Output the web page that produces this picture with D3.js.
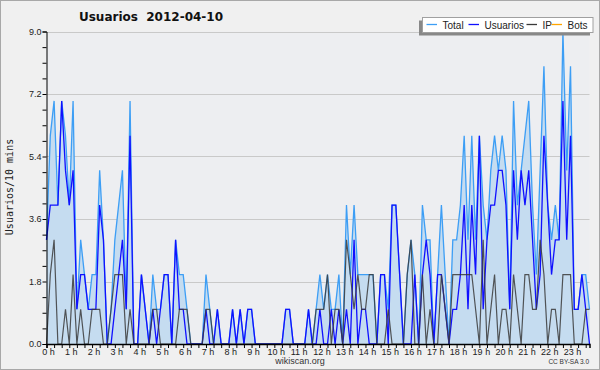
<!DOCTYPE html>
<html><head><meta charset="utf-8">
<script src="https://cdn.jsdelivr.net/npm/d3@7"></script>
<style>body{margin:0;background:#f0f0f0}svg{display:block}</style>
</head><body><svg id="c" width="600" height="370"></svg>
<script>
// 10-minute slots, 2012-04-10
const usuarios = [3,4,4,4,7,5,4,5,1,2,2,1,1,1,4,3,0,0,1,2,3,1,6,
  0,0,2,1,0,1,0,1,2,2,0,3,1,1,0,0,0,0,0,1,0,0,1,0,
  0,0,1,0,1,0,1,1,0,0,0,0,0,0,0,0,1,1,0,0,0,0,1,0,
  0,1,0,0,1,0,1,0,1,0,3,0,1,1,0,0,0,2,2,0,4,4,2,0,0,
  0,2,0,2,3,2,0,2,2,1,0,1,1,2,4,1,4,2,6,1,3,4,4,
  5,5,4,1,5,3,5,4,5,3,1,2,6,4,2,3,3,7,3,6,1,1,2,1,0];
const ip = [0,2,3,0,0,1,0,2,0,1,0,0,1,1,1,0,0,1,2,2,2,0,1,
  0,0,0,0,0,1,1,0,0,0,0,0,1,1,1,0,0,0,0,1,1,0,0,0,
  0,0,0,0,0,0,0,0,0,0,0,0,0,0,0,0,0,0,0,0,0,0,0,0,
  1,1,1,2,0,1,1,0,3,2,1,2,1,1,2,2,0,0,0,1,0,0,0,0,2,
  3,0,0,2,0,1,0,0,2,1,0,2,2,2,2,2,2,1,0,3,0,1,2,
  0,1,1,0,2,1,0,2,2,1,1,3,2,0,1,1,0,2,2,2,0,0,0,1,1];
const total = [3,6,7,4,7,6,4,7,1,3,2,1,2,2,5,3,0,1,3,4,5,1,7,
  0,0,2,1,0,2,1,1,2,2,0,3,2,2,1,0,0,0,0,2,1,0,1,0,
  0,0,1,0,1,0,1,1,0,0,0,0,0,0,0,0,1,1,0,0,0,0,1,0,
  1,2,1,2,1,1,2,0,4,2,4,2,2,2,2,2,0,2,2,1,4,4,2,0,2,
  3,2,0,4,3,3,0,2,4,2,0,3,3,4,6,3,6,3,6,4,3,5,6,
  5,6,5,1,7,4,5,6,7,4,2,5,8,4,3,4,3,9,5,8,1,1,2,2,1];
const bots = [0,0,0,0,0,0,0,0,0,0,0,0,0,0,0,0,0,0,0,0,0,0,0,0,
  0,0,0,0,0,0,0,0,0,0,0,0,0,0,0,0,0,0,0,0,0,0,0,0,
  0,0,0,0,0,0,0,0,0,0,0,0,0,0,0,0,0,0,0,0,0,0,0,0,
  0,0,0,0,0,0,0,0,0,0,0,0,0,0,0,0,0,0,0,0,0,0,0,0,
  0,0,0,0,0,0,0,0,0,0,0,0,0,0,0,0,0,0,0,0,0,0,0,0,
  0,0,0,0,0,0,0,0,0,0,0,0,0,0,0,0,0,0,0,0,0,0,0,0];
const yTicks = [0, 1.8, 3.6, 5.4, 7.2, 9.0];
const hourLabels = ["0 h","1 h","2 h","3 h","4 h","5 h","6 h","7 h","8 h","9 h","10 h","11 h",
  "12 h","13 h","14 h","15 h","16 h","17 h","18 h","19 h","20 h","21 h","22 h","23 h"];
const legendNames = ["Total","Usuarios","IP","Bots"];
const title = "Usuarios  2012-04-10";
const yTitle = "Usuarios/10 mins";

const svg = d3.select("#c");
const W = 600, H = 370;
const x = d3.scaleLinear().domain([0, total.length - 1]).range([46.5, 589.5]);
const y = d3.scaleLinear().domain([0, 9]).range([344, 31.5]);
const colors = {Total:"#3d9ef5", Usuarios:"#1010ff", IP:"#3a3a3a", Bots:"#ffa500"};

svg.append("rect").attr("x",0.5).attr("y",0.5).attr("width",W-1).attr("height",H-1)
  .attr("fill","#f0f0f0").attr("stroke","#a8a8a8");
svg.append("rect").attr("x",x(0)).attr("y",y(9)).attr("width",x(143)-x(0)).attr("height",y(0)-y(9))
  .attr("fill","#edeef1");

// grid
svg.append("g").selectAll("line").data(yTicks.filter(d=>d>0)).join("line")
  .attr("x1",x(0)).attr("x2",x(143)).attr("y1",d=>Math.round(y(d))+0.5).attr("y2",d=>Math.round(y(d))+0.5)
  .attr("stroke","#c9c9c9").attr("stroke-width",1);

const idx = d3.range(total.length);
const line = arr => d3.line().x(i=>x(i)).y(i=>y(arr[i]));
// bots are all zero: drawn first so the axis covers them, as in the original
svg.append("path").datum(idx).attr("d", line(bots)).attr("fill","none").attr("stroke",colors.Bots).attr("stroke-width",1);
svg.append("path").datum(idx)
  .attr("d", d3.area().x(i=>x(i)).y0(y(0)).y1(i=>y(total[i])))
  .attr("fill","#c5dcf0");
svg.append("path").datum(idx).attr("d", line(total)).attr("fill","none").attr("stroke",colors.Total).attr("stroke-width",1.3);
svg.append("path").datum(idx).attr("d", line(usuarios)).attr("fill","none").attr("stroke",colors.Usuarios).attr("stroke-width",1.3);
svg.append("path").datum(idx).attr("d", line(ip)).attr("fill","none").attr("stroke",colors.IP).attr("stroke-width",1.2).attr("stroke-opacity",0.85);

// y axis
const yAxis = d3.axisLeft(y).tickValues(d3.range(0, 9.01, 0.45)).tickSize(4)
  .tickFormat(d => yTicks.some(t=>Math.abs(t-d)<1e-6) ? d3.format(".1f")(d) : "");
const gy = svg.append("g").attr("transform","translate(46.5,0)").call(yAxis);
gy.select(".domain").attr("stroke","#000");
gy.selectAll(".tick line").attr("stroke","#000");
gy.selectAll(".tick text").attr("font-family","Liberation Sans, Arial, sans-serif").attr("font-size",9).attr("fill","#222").attr("x",-5);

// x axis
const xAxis = d3.axisBottom(x).tickValues(d3.range(0, 144, 2)).tickSize(4)
  .tickFormat(d => d % 6 === 0 ? hourLabels[d/6] : "");
const gx = svg.append("g").attr("transform","translate(0,344)").call(xAxis);
gx.select(".domain").attr("stroke","#000").attr("stroke-width",1.5);
gx.selectAll(".tick line").attr("stroke","#000");
gx.selectAll(".tick text").attr("font-family","Liberation Sans, Arial, sans-serif").attr("font-size",9).attr("fill","#222").attr("y",5).attr("dx",1.5);

// titles
svg.append("text").attr("x",151).attr("y",21).attr("text-anchor","middle")
  .attr("font-family","DejaVu Sans, sans-serif").attr("font-weight","bold").attr("font-size",12)
  .style("white-space","pre").attr("fill","#111").text(title);
svg.append("text").attr("transform","translate(13,187) rotate(-90)").attr("text-anchor","middle")
  .attr("font-family","DejaVu Sans Mono, monospace").attr("font-size",10).attr("fill","#222").text(yTitle);
svg.append("text").attr("x",300).attr("y",364).attr("text-anchor","middle")
  .attr("font-family","Liberation Sans, Arial, sans-serif").attr("font-size",9).attr("fill","#333").text("wikiscan.org");
svg.append("text").attr("x",589).attr("y",364).attr("text-anchor","end")
  .attr("font-family","Liberation Sans, Arial, sans-serif").attr("font-size",6.5).attr("fill","#333").text("CC BY-SA 3.0");

// legend
const lg = svg.append("g");
lg.append("rect").attr("x",419).attr("y",20.5).attr("width",171).attr("height",15).attr("fill","#888");
lg.append("rect").attr("x",422.5).attr("y",17.5).attr("width",170.5).attr("height",15).attr("fill","#fff").attr("stroke","#a0a0a0");
const lx = [426.5, 468.5, 526.5, 551.5];
const items = lg.selectAll("g.it").data(legendNames).join("g").attr("class","it");
items.append("line").attr("x1",(d,i)=>lx[i]).attr("x2",(d,i)=>lx[i]+10.5).attr("y1",24.5).attr("y2",24.5)
  .attr("stroke",d=>colors[d]).attr("stroke-width",1.3);
items.append("text").attr("x",(d,i)=>lx[i]+16).attr("y",28.5)
  .attr("font-family","Liberation Sans, Arial, sans-serif").attr("font-size",10).attr("fill","#222").text(d=>d);
</script></body></html>
